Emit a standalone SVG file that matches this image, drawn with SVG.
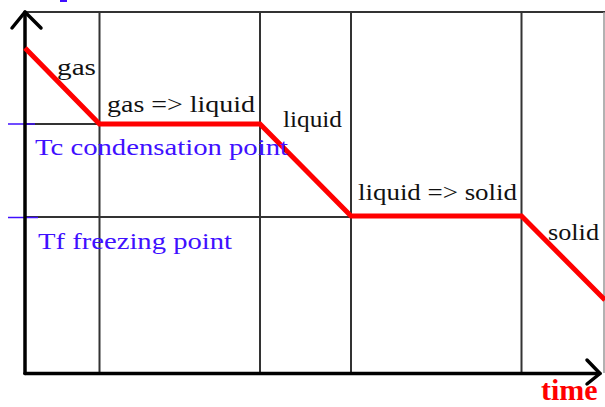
<svg xmlns="http://www.w3.org/2000/svg" width="605" height="407" viewBox="0 0 605 407">
<style>
.grid{stroke:#333;stroke-width:2;fill:none}
.axis{stroke:#000;stroke-width:3.5;fill:none;stroke-linecap:round;stroke-linejoin:round}
.curve{stroke:#ff0000;stroke-width:5;fill:none;stroke-linejoin:miter}
.lbl{font-family:"Liberation Serif","Times New Roman",serif;font-size:24px;fill:#111}
.blue{font-family:"Liberation Serif","Times New Roman",serif;font-size:24px;fill:#4010ff}
.tick{stroke:#4010ff;stroke-width:1.5}
.time{font-family:"Liberation Serif","Times New Roman",serif;font-size:30px;font-weight:bold;fill:#ff0000}
</style>
<rect width="605" height="407" fill="#fff"/>
<rect x="60" y="0" width="7" height="2" fill="#4010ff"/>
<g id="grid">
<line class="grid" x1="25" y1="12" x2="605" y2="12"/>
<line class="grid" x1="99.5" y1="12" x2="99.5" y2="373"/>
<line class="grid" x1="260" y1="12" x2="260" y2="373"/>
<line class="grid" x1="351" y1="12" x2="351" y2="373"/>
<line class="grid" x1="521.5" y1="12" x2="521.5" y2="373"/>
<line x1="604" y1="12" x2="604" y2="373" stroke="#999" stroke-width="1.5"/>
<line class="grid" x1="25" y1="124" x2="260" y2="124"/>
<line class="grid" x1="25" y1="217" x2="351" y2="217"/>
<line class="tick" x1="8" y1="124" x2="35" y2="124"/>
<line class="tick" x1="8" y1="217.5" x2="38" y2="217.5"/>
</g>
<g id="axes">
<line class="axis" x1="25" y1="12" x2="25" y2="373.5"/>
<line class="axis" x1="25" y1="373.5" x2="600" y2="373.5"/>
<polyline class="axis" points="12,28 25,12 41,28"/>
<polyline class="axis" points="587,360 600,373.5 587,384"/>
</g>
<g id="connectors">
<polyline class="curve" points="25,48 99.5,124 260,124 351,216 521.5,216 605,300"/>
</g>
<g id="labels">
<text class="lbl" x="57" y="75" textLength="39" lengthAdjust="spacingAndGlyphs">gas</text>
<text class="lbl" x="107" y="112" textLength="148" lengthAdjust="spacingAndGlyphs">gas =&gt; liquid</text>
<text class="lbl" x="283" y="127" textLength="59" lengthAdjust="spacingAndGlyphs">liquid</text>
<text class="lbl" x="358" y="200" textLength="159" lengthAdjust="spacingAndGlyphs">liquid =&gt; solid</text>
<text class="lbl" x="548" y="240" textLength="51" lengthAdjust="spacingAndGlyphs">solid</text>
<text class="blue" x="35" y="155" textLength="253" lengthAdjust="spacingAndGlyphs">Tc condensation point</text>
<text class="blue" x="38" y="249" textLength="194" lengthAdjust="spacingAndGlyphs">Tf freezing point</text>
<text class="time" x="541" y="400">time</text>
</g>
</svg>
